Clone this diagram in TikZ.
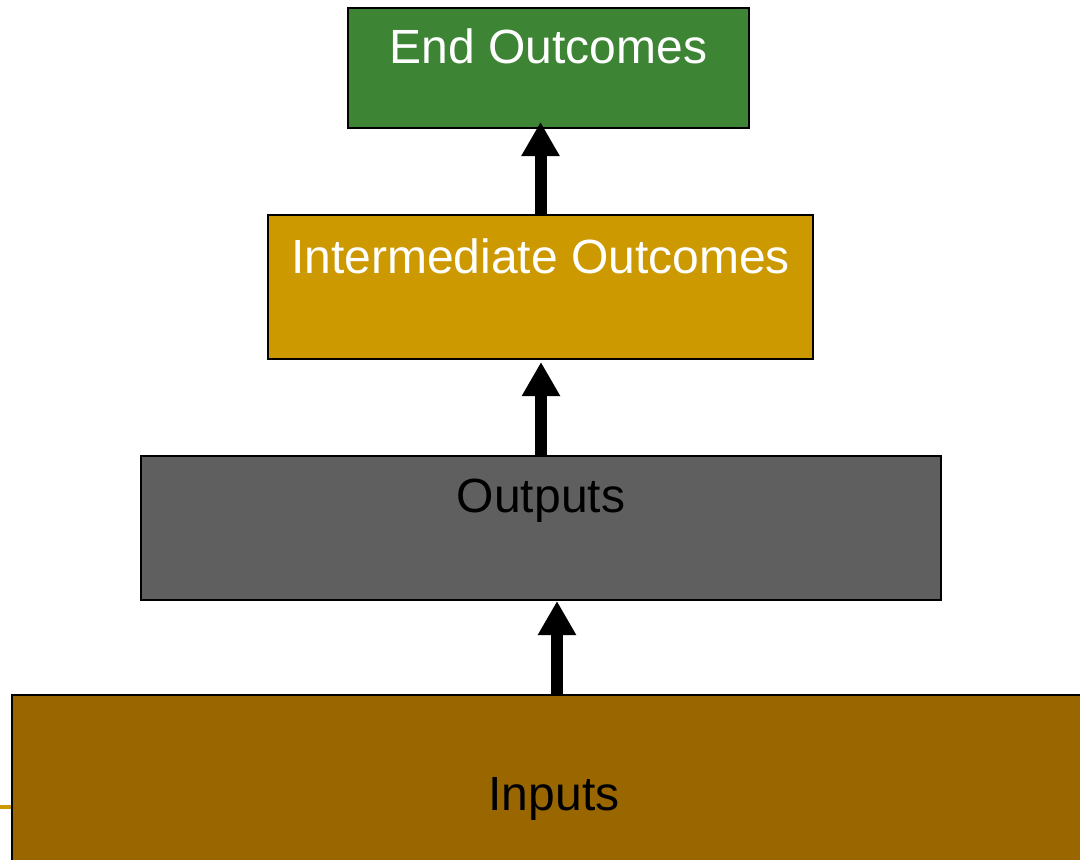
\documentclass[tikz,border=0pt]{standalone}
\usepackage{fontspec}
\setmainfont{Liberation Sans}
\usetikzlibrary{arrows.meta,calc}
\definecolor{endgreen}{RGB}{61,133,52}
\definecolor{midgold}{RGB}{204,153,0}
\definecolor{outgray}{RGB}{95,95,95}
\definecolor{inbrown}{RGB}{153,102,0}
\tikzset{
  stage/.style={draw=black, line width=2pt, rectangle, inner sep=0pt,
    font=\fontsize{48}{58}\selectfont},
  bigarrow/.style={line width=12pt, -{Triangle[width=36pt,length=34pt]}}
}
\begin{document}
\begin{tikzpicture}[x=1pt,y=-1pt]
  \useasboundingbox (0,0) rectangle (1080,860);
  \clip (0,0) rectangle (1080,860);
  % side rule running into the bottom box
  \coordinate (rulestart) at (0,806.5);
  \node[stage, fill=inbrown, text=black, minimum width=1090pt, minimum height=205pt,
        text height=115pt, text depth=90pt] (inputs) at (557,797.5) {\hspace*{-6pt}Inputs};
  \draw[midgold, line width=4pt] (rulestart) -- (rulestart -| inputs.west);
  \node[stage, fill=outgray, text=black, minimum width=800pt, minimum height=144pt,
        text height=56pt, text depth=88pt] (outputs) at (541,528) {Outputs};
  \node[stage, fill=midgold, text=white, minimum width=545pt, minimum height=144pt,
        text height=58pt, text depth=86pt] (inter) at (540.5,287) {Intermediate Outcomes};
  \node[stage, fill=endgreen, text=white, minimum width=401pt, minimum height=120pt,
        text height=55pt, text depth=65pt] (endo) at (548.5,68) {End Outcomes};
  % upward arrows between stages
  \draw[bigarrow] (inputs.north) -- (inputs.north |- outputs.south);
  \draw[bigarrow] (outputs.north) -- ($(outputs.north |- inter.south)+(0,2)$);
  \draw[bigarrow] (inter.north) -- ($(inter.north |- endo.south)+(0,-7)$);
\end{tikzpicture}
\end{document}
